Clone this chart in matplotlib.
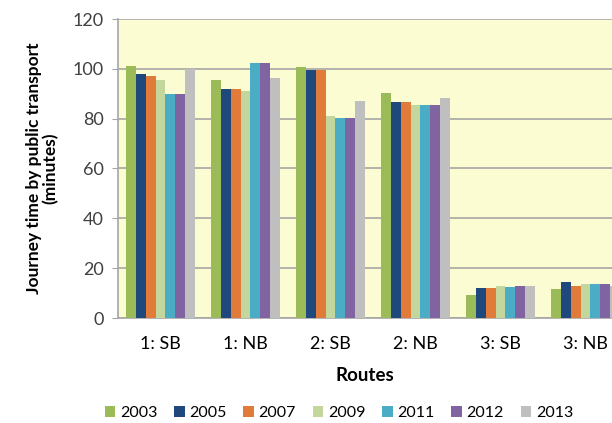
import numpy as np
import matplotlib.pyplot as plt

routes = ["1: SB", "1: NB", "2: SB", "2: NB", "3: SB", "3: NB"]
years = ["2003", "2005", "2007", "2009", "2011", "2012", "2013"]
colors = ["#9BBB59", "#1F497D", "#E07B39", "#C3D69B", "#4BACC6", "#8064A2", "#BFBFBF"]

v2003 = [101.2, 95.4, 100.7, 90.2, 9.4, 11.5]
v2005 = [98.0, 91.8, 99.7, 86.6, 12.0, 14.6]
v2007 = [97.0, 91.8, 99.7, 86.6, 12.0, 13.0]
v2009 = [95.4, 91.3, 81.0, 85.5, 13.0, 13.5]
v2011 = [90.0, 102.3, 80.4, 85.5, 12.6, 13.5]
v2012 = [90.0, 102.3, 80.4, 85.5, 13.0, 13.5]
v2013 = [100.0, 96.4, 87.1, 88.2, 13.0, 13.0]
series = [v2003, v2005, v2007, v2009, v2011, v2012, v2013]

plt.rcParams['font.family'] = ['Lato', 'DejaVu Sans']

fig = plt.figure(figsize=(6.12, 4.23), dpi=100)
ax = fig.add_axes([118 / 612, 105 / 423, 1 - 118 / 612, 299 / 423])
ax.set_facecolor("#FCFCD2")

x = np.arange(len(routes))
w = 0.116
for i, (yr, vals) in enumerate(zip(years, series)):
    ax.bar(x + (i - 3) * w, vals, width=w, color=colors[i], label=yr, zorder=3)

ax.set_ylim(0, 120)
ax.set_yticks(range(0, 121, 20))
ax.set_xlim(-0.5, -0.5 + (612 - 118) / 85)
ax.set_xticks(x)
ax.set_xticklabels(routes)
ax.yaxis.grid(True, color="#A6A6A6", linewidth=1.2, zorder=0)
ax.tick_params(axis="y", labelsize=13, colors="#404040", length=4, color="#A6A6A6", pad=6)
ax.tick_params(axis="x", labelsize=13, colors="#000000", length=0, pad=13)
for s in ["top", "right"]:
    ax.spines[s].set_visible(False)
for s in ["left", "bottom"]:
    ax.spines[s].set_color("#A6A6A6")
    ax.spines[s].set_linewidth(1.2)

ax.set_ylabel("Journey time by public transport\n(minutes)", fontsize=12.5, fontweight="bold",
              linespacing=1.05, labelpad=10)
ax.set_xlabel("Routes", fontsize=13.5, fontweight="bold", labelpad=11)

fig.legend(loc="center", bbox_to_anchor=(339 / 612, 1 - 413 / 423), ncol=7, frameon=False,
           fontsize=11.5, handlelength=0.65, handleheight=0.65, handletextpad=0.3, columnspacing=1.05)

plt.savefig("out.png", dpi=100)
